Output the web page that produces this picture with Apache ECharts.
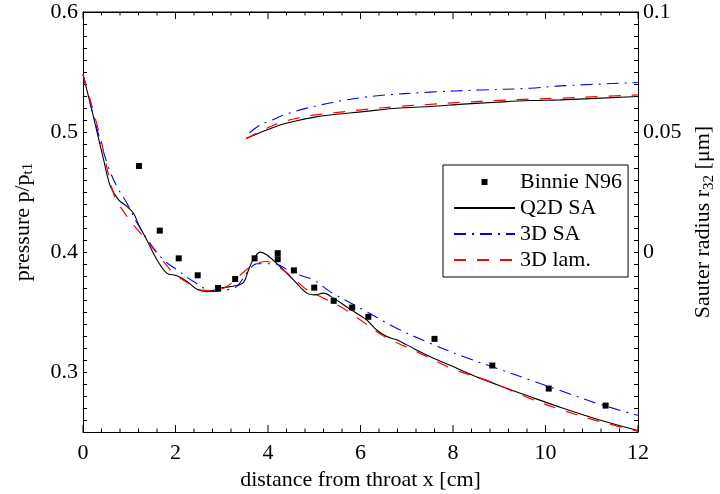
<!DOCTYPE html>
<html>
<head>
<meta charset="utf-8">
<script src="https://cdn.jsdelivr.net/npm/echarts@6/dist/echarts.min.js"></script>
<style>
  html, body { margin: 0; padding: 0; background: #fff; }
  #chart { width: 720px; height: 494px; background: #fff; }
</style>
</head>
<body>
<div id="chart"></div>
<script>
// measured data (Binnie nozzle: pressure and Sauter radius)
const binnieX = [1.21, 1.66, 2.07, 2.48, 2.92, 3.29, 3.71, 4.21, 4.21, 4.56, 5.0, 5.42, 5.82, 6.17, 7.6, 8.85, 10.07, 11.3];
const binnieP = [0.4717, 0.4178, 0.3947, 0.3806, 0.370, 0.3775, 0.3947, 0.399, 0.394, 0.3847, 0.3703, 0.3593, 0.3537, 0.346, 0.3276, 0.3054, 0.2862, 0.272];

// pressure p/pt1
const q2dX = [0, 0.23, 0.445, 0.59, 0.77, 0.95, 1.09, 1.2, 1.38, 1.6, 1.81, 2.03, 2.25, 2.46, 2.68, 2.97, 3.29, 3.47, 3.58, 3.68, 3.83, 3.97, 4.26, 4.55, 4.84, 5.02, 5.2, 5.41, 5.77, 6.13, 6.35, 6.57, 6.78, 7.0, 7.5, 8.0, 8.58, 9.16, 9.66, 10.38, 11.1, 12];
const q2dP = [0.548, 0.512, 0.477, 0.455, 0.4435, 0.438, 0.4325, 0.423, 0.410, 0.3935, 0.3824, 0.3802, 0.3754, 0.369, 0.367, 0.3699, 0.3718, 0.3747, 0.3852, 0.3935, 0.3999, 0.3977, 0.3879, 0.3768, 0.3657, 0.3643, 0.3657, 0.3616, 0.3525, 0.3435, 0.335, 0.3295, 0.3268, 0.3226, 0.3129, 0.3045, 0.2949, 0.2865, 0.2795, 0.2698, 0.2609, 0.2512];

const sa3dX = [0, 0.23, 0.52, 0.73, 0.95, 1.17, 1.45, 1.74, 2.03, 2.39, 2.82, 3.11, 3.33, 3.54, 3.76, 4.12, 4.55, 4.98, 5.34, 6.06, 6.78, 7.5, 8.22, 8.94, 9.66, 10.38, 11.1, 12];
const sa3dP = [0.548, 0.513, 0.474, 0.4547, 0.4407, 0.4241, 0.4074, 0.3935, 0.3852, 0.3754, 0.3671, 0.3685, 0.3713, 0.3824, 0.3902, 0.3902, 0.3824, 0.3768, 0.367, 0.3518, 0.3365, 0.324, 0.3129, 0.3032, 0.2934, 0.2837, 0.274, 0.2638];

const lamX = [0, 0.37, 0.66, 0.95, 1.24, 1.6, 1.96, 2.25, 2.53, 2.82, 3.11, 3.4, 3.69, 3.97, 4.26, 4.55, 4.84, 5.13, 5.56, 5.99, 6.5, 7.21, 8.0, 8.8, 9.66, 10.38, 11.1, 12];
const lamP = [0.548, 0.4963, 0.449, 0.4296, 0.4157, 0.399, 0.3824, 0.3746, 0.3685, 0.3679, 0.3713, 0.3809, 0.3893, 0.3921, 0.3866, 0.3782, 0.3685, 0.3629, 0.3546, 0.3436, 0.330, 0.317, 0.3025, 0.292, 0.278, 0.268, 0.2595, 0.2505];

// Sauter radius r32 [um]
const q2dRX = [3.54, 3.76, 3.97, 4.26, 4.62, 4.98, 5.34, 6.06, 6.78, 7.5, 8.22, 8.94, 9.66, 10.31, 12];
const q2dR = [0.0474, 0.0492, 0.0508, 0.0529, 0.0547, 0.0561, 0.0571, 0.0585, 0.0599, 0.0606, 0.0616, 0.0624, 0.0631, 0.0634, 0.0648];

const sa3dRX = [3.6, 3.83, 4.05, 4.4, 4.98, 5.7, 6.42, 7.5, 8.58, 9.66, 10.31, 12];
const sa3dR = [0.0497, 0.0529, 0.0547, 0.0575, 0.0606, 0.0634, 0.0652, 0.0666, 0.0675, 0.0682, 0.0692, 0.0706];

const lamRX = [3.52, 3.76, 3.97, 4.26, 4.62, 4.98, 5.34, 6.06, 6.78, 7.5, 8.22, 8.94, 9.66, 10.31, 11.2, 12];
const lamR = [0.0472, 0.0495, 0.0515, 0.0539, 0.0557, 0.0570, 0.0578, 0.0593, 0.0606, 0.0615, 0.0624, 0.0631, 0.0637, 0.0641, 0.0648, 0.0655];

// x tick positions (cm): major every 2, minor every 0.4
const xMajorTicks = [0, 2, 4, 6, 8, 10, 12];
const xMinorTicks = [];
for (let i = 1; i < 30; i++) {
    if (i % 5 !== 0) xMinorTicks.push(+(i * 0.4).toFixed(1));
}

const X_MIN = 0, X_MAX = 12, P_MIN = 0.25, P_MAX = 0.6;

const FONT = "'Liberation Serif', 'Times New Roman', serif";

function zip(xs, ys) {
    return xs.map((x, i) => [x, ys[i]]);
}

function xAxisFor(position) {
    return {
        type: 'value',
        position: position,
        min: X_MIN,
        max: X_MAX,
        interval: 2,
        axisLine: { show: true, onZero: false, lineStyle: { color: '#000', width: 1 } },
        axisTick: { show: false },
        minorTick: { show: false },
        splitLine: { show: false }
    };
}

function nameRich() {
    return {
        a: { fontFamily: FONT, fontSize: 22, lineHeight: 26, verticalAlign: 'middle', color: '#000' },
        b: { fontFamily: FONT, fontSize: 15, lineHeight: 10, verticalAlign: 'bottom', color: '#000' }
    };
}

// tick marks on bottom and top edge, placed through the x scale
function renderTick(params, api) {
    const v = api.value(0);
    const len = api.value(1) ? 7 : 3.5;
    const b = api.coord([v, P_MIN]);
    const t = api.coord([v, P_MAX]);
    const st = { stroke: '#000', lineWidth: 1 };
    return {
        type: 'group',
        children: [
            { type: 'line', shape: { x1: b[0], y1: b[1], x2: b[0], y2: b[1] - len }, style: st },
            { type: 'line', shape: { x1: t[0], y1: t[1], x2: t[0], y2: t[1] + len }, style: st }
        ]
    };
}

// top edge of the box
function renderTopEdge(params, api) {
    const a = api.coord([X_MIN, P_MAX]);
    const b = api.coord([X_MAX, P_MAX]);
    return {
        type: 'line',
        shape: { x1: a[0], y1: a[1], x2: b[0], y2: b[1] },
        style: { stroke: '#000', lineWidth: 1 }
    };
}

const tickData = xMajorTicks.map(v => [v, 1]).concat(xMinorTicks.map(v => [v, 0]));

const chart = echarts.init(document.getElementById('chart'));

const bottomAxis = xAxisFor('bottom');
bottomAxis.name = 'distance from throat x [cm]';
bottomAxis.nameLocation = 'middle';
bottomAxis.nameGap = 37;
bottomAxis.nameTextStyle = { fontFamily: FONT, fontSize: 22, color: '#000' };
bottomAxis.axisLabel = { fontFamily: FONT, fontSize: 22, color: '#000', margin: 10 };

const topAxis = xAxisFor('top');
topAxis.axisLabel = { show: false };

const option = {
    animation: false,
    grid: { left: 83, right: 82, top: 12, bottom: 62, outerBoundsMode: 'none' },
    legend: {
        orient: 'vertical',
        left: 443,
        top: 165,
        itemWidth: 61,
        itemHeight: 6,
        itemGap: 0,
        padding: [4, 6, 4, 10],
        borderColor: '#000',
        borderWidth: 1,
        backgroundColor: '#fff',
        selectedMode: false,
        textStyle: { fontFamily: FONT, fontSize: 22, lineHeight: 26, color: '#000' },
        data: [
            { name: 'Binnie N96', icon: 'path://M0,0H10V10H0Z' },
            // line items: hide the dot ECharts puts on the line icon
            { name: 'Q2D SA', itemStyle: { opacity: 0 } },
            { name: '3D SA', itemStyle: { opacity: 0 } },
            { name: '3D lam.', itemStyle: { opacity: 0 } }
        ]
    },
    xAxis: [bottomAxis, topAxis],
    yAxis: [
        {
            type: 'value',
            position: 'left',
            min: P_MIN,
            max: P_MAX,
            interval: 0.05,
            name: '{a|pressure p/p}{b|t1}',
            nameLocation: 'middle',
            nameRotate: 90,
            nameGap: 47,
            nameTextStyle: { fontFamily: FONT, fontSize: 22, color: '#000', rich: nameRich() },
            axisLine: { show: true, onZero: false, lineStyle: { color: '#000', width: 1 } },
            axisTick: { show: true, inside: true, length: 4, lineStyle: { color: '#000' } },
            minorTick: { show: true, splitNumber: 5, length: 4, lineStyle: { color: '#000' } },
            splitLine: { show: false },
            axisLabel: {
                fontFamily: FONT, fontSize: 22, color: '#000', margin: 5,
                formatter: v => Math.abs(v * 10 - Math.round(v * 10)) < 1e-6 ? v.toFixed(1) : ''
            }
        },
        {
            type: 'value',
            position: 'right',
            min: -0.075,
            max: 0.1,
            interval: 0.025,
            name: '{a|Sauter radius r}{b|32}{a| [μm]}',
            nameLocation: 'middle',
            nameRotate: 90,
            nameGap: 52,
            nameTextStyle: { fontFamily: FONT, fontSize: 22, color: '#000', rich: nameRich() },
            axisLine: { show: true, onZero: false, lineStyle: { color: '#000', width: 1 } },
            axisTick: { show: true, inside: true, length: 4, lineStyle: { color: '#000' } },
            minorTick: { show: true, splitNumber: 5, length: 4, lineStyle: { color: '#000' } },
            splitLine: { show: false },
            axisLabel: {
                fontFamily: FONT, fontSize: 22, color: '#000', margin: 5,
                formatter: function (v) {
                    if (v < -1e-9) return '';
                    if (Math.abs(v * 20 - Math.round(v * 20)) > 1e-6) return '';
                    return String(+v.toFixed(2));
                }
            }
        }
    ],
    series: [
        {
            name: 'xticks', type: 'custom', xAxisIndex: 0, yAxisIndex: 0,
            data: tickData, renderItem: renderTick, silent: true, z: 2
        },
        {
            name: 'topedge', type: 'custom', xAxisIndex: 0, yAxisIndex: 0,
            data: [[X_MIN, P_MAX]], renderItem: renderTopEdge, silent: true, z: 2
        },
        {
            name: 'Q2D SA', type: 'line', yAxisIndex: 0, data: zip(q2dX, q2dP),
            symbol: 'none', smooth: 0.35, z: 3,
            lineStyle: { color: '#000', width: 1.1, type: 'solid' }, itemStyle: { color: '#000' }
        },
        {
            name: 'Q2D SA', type: 'line', yAxisIndex: 1, data: zip(q2dRX, q2dR),
            symbol: 'none', smooth: 0.35, z: 3,
            lineStyle: { color: '#000', width: 1.1, type: 'solid' }, itemStyle: { color: '#000' }
        },
        {
            name: '3D SA', type: 'line', yAxisIndex: 0, data: zip(sa3dX, sa3dP),
            symbol: 'none', smooth: 0.35, z: 4,
            lineStyle: { color: '#0000ff', width: 1.1, type: [12, 6, 2, 6] }, itemStyle: { color: '#0000ff' }
        },
        {
            name: '3D SA', type: 'line', yAxisIndex: 1, data: zip(sa3dRX, sa3dR),
            symbol: 'none', smooth: 0.35, z: 4,
            lineStyle: { color: '#0000ff', width: 1.1, type: [12, 6, 2, 6] }, itemStyle: { color: '#0000ff' }
        },
        {
            name: '3D lam.', type: 'line', yAxisIndex: 0, data: zip(lamX, lamP),
            symbol: 'none', smooth: 0.35, z: 5,
            lineStyle: { color: '#ff0000', width: 1.2, type: [12, 11] }, itemStyle: { color: '#ff0000' }
        },
        {
            name: '3D lam.', type: 'line', yAxisIndex: 1, data: zip(lamRX, lamR),
            symbol: 'none', smooth: 0.35, z: 5,
            lineStyle: { color: '#ff0000', width: 1.2, type: [12, 11] }, itemStyle: { color: '#ff0000' }
        },
        {
            name: 'Binnie N96', type: 'scatter', yAxisIndex: 0, data: zip(binnieX, binnieP),
            symbol: 'rect', symbolSize: 6, z: 6,
            itemStyle: { color: '#000', opacity: 1 }
        }
    ]
};

chart.setOption(option);
</script>
</body>
</html>
